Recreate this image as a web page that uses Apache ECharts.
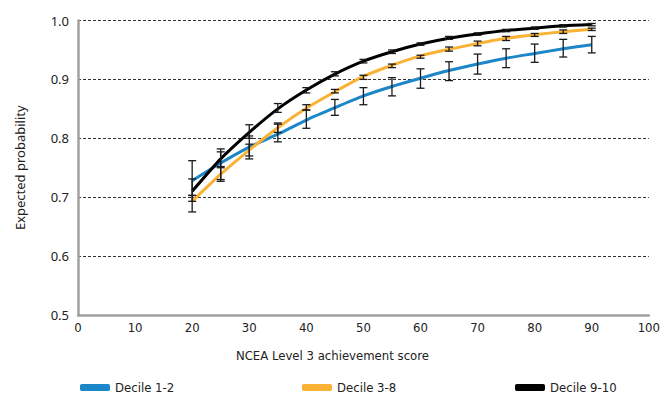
<!DOCTYPE html>
<html>
<head>
<meta charset="utf-8">
<script src="https://cdn.jsdelivr.net/npm/echarts@6/dist/echarts.min.js"></script>
<style>html,body{margin:0;padding:0;background:#fff}#c{width:663px;height:403px}</style>
</head>
<body>
<div id="c"></div>
<script>
const scores = [20,25,30,35,40,45,50,55,60,65,70,75,80,85,90];
const xTicks = [0,10,20,30,40,50,60,70,80,90,100];
const yTicks = [0.5,0.6,0.7,0.8,0.9,1.0];
const seriesNames = ['Decile 1-2','Decile 3-8','Decile 9-10'];

const d12 = [0.728,0.758,0.785,0.807,0.831,0.852,0.872,0.888,0.902,0.915,0.926,0.936,0.944,0.952,0.959];
const d12Low = [0.703,0.730,0.765,0.794,0.817,0.839,0.857,0.872,0.885,0.898,0.909,0.920,0.929,0.938,0.945];
const d12High = [0.762,0.782,0.804,0.826,0.848,0.866,0.886,0.903,0.918,0.930,0.943,0.952,0.960,0.968,0.973];

const d38 = [0.693,0.739,0.780,0.818,0.851,0.879,0.905,0.924,0.940,0.951,0.961,0.970,0.976,0.981,0.985];
const d38Low = [0.675,0.727,0.770,0.810,0.848,0.877,0.900,0.920,0.936,0.948,0.957,0.966,0.973,0.978,0.983];
const d38High = [0.703,0.750,0.790,0.824,0.857,0.883,0.907,0.926,0.941,0.955,0.965,0.973,0.978,0.984,0.987];

const d910 = [0.710,0.765,0.810,0.850,0.882,0.909,0.931,0.947,0.960,0.970,0.977,0.983,0.987,0.991,0.993];
const d910Low = [0.693,0.752,0.800,0.844,0.877,0.906,0.928,0.944,0.958,0.968,0.975,0.981,0.985,0.989,0.991];
const d910High = [0.731,0.777,0.823,0.859,0.886,0.913,0.934,0.950,0.962,0.973,0.979,0.985,0.989,0.993,0.995];

const colors = ['#1b87c9','#f9b233','#000000'];
const means = [d12,d38,d910];
const lows = [d12Low,d38Low,d910Low];
const highs = [d12High,d38High,d910High];

const chart = echarts.init(document.getElementById('c'), null, {renderer:'svg'});

const lineSeries = seriesNames.map((n,i)=>({
  name:n, type:'line', data: scores.map((x,j)=>[x,means[i][j]]),
  showSymbol:false, symbol:'none', smooth:0.2,
  lineStyle:{color:colors[i], width:3}, itemStyle:{color:colors[i]}, z:2+i
}));

function errRender(params, api){
  const x = api.value(0), lo = api.value(1), hi = api.value(2);
  const p1 = api.coord([x, hi]), p2 = api.coord([x, lo]);
  const w = 4;
  const st = {stroke:'#1a1a1a', lineWidth:1.3};
  return {type:'group', children:[
    {type:'line', shape:{x1:p1[0],y1:p1[1],x2:p2[0],y2:p2[1]}, style:st},
    {type:'line', shape:{x1:p1[0]-w,y1:p1[1],x2:p1[0]+w,y2:p1[1]}, style:st},
    {type:'line', shape:{x1:p2[0]-w,y1:p2[1],x2:p2[0]+w,y2:p2[1]}, style:st}
  ]};
}
const errSeries = seriesNames.map((n,i)=>({
  type:'custom', renderItem: errRender, silent:true, z:10,
  data: scores.map((x,j)=>[x,lows[i][j],highs[i][j]])
}));

const condFont = 'DejaVu Sans Condensed, Liberation Sans Narrow, Roboto, sans-serif';
const legendFont = {fontFamily:condFont, fontSize:13, color:'#222'};
const legendLefts = [75,297,510];
const legends = seriesNames.map((n,i)=>({
  data:[n], left:legendLefts[i], top:376, icon:'roundRect', itemWidth:30, itemHeight:7,
  itemGap:9, textStyle:legendFont, selectedMode:false
}));

chart.setOption({
  animation:false,
  legend: legends,
  grid:{left:78, right:8, top:20.5, bottom:88, containLabel:false},
  xAxis:{
    type:'value', min:xTicks[0], max:xTicks[xTicks.length-1], interval:10,
    axisLine:{show:true, lineStyle:{color:'#a0a0a0', width:2.5}},
    axisTick:{show:false}, splitLine:{show:false},
    axisLabel:{margin:6, fontFamily:condFont, fontSize:13, color:'#222'},
    name:'NCEA Level 3 achievement score', nameLocation:'middle', nameGap:34,
    nameTextStyle:{fontFamily:condFont, fontSize:13, color:'#222', padding:[0,62,0,0]}
  },
  yAxis:{
    type:'value', min:yTicks[0], max:yTicks[yTicks.length-1], interval:0.1,
    axisLine:{show:true, lineStyle:{color:'#a0a0a0', width:2.5}},
    axisTick:{show:false},
    splitLine:{show:true, lineStyle:{color:'#333', type:[3,2], width:1}},
    axisLabel:{margin:9, fontFamily:'Noto Sans, sans-serif', fontSize:13, color:'#222', formatter:v=>v.toFixed(1)},
    name:'Expected probability', nameLocation:'middle', nameGap:52,
    nameTextStyle:{fontFamily:'Noto Sans, sans-serif', fontSize:13, color:'#222'}
  },
  series: lineSeries.concat(errSeries)
});
</script>
</body>
</html>
